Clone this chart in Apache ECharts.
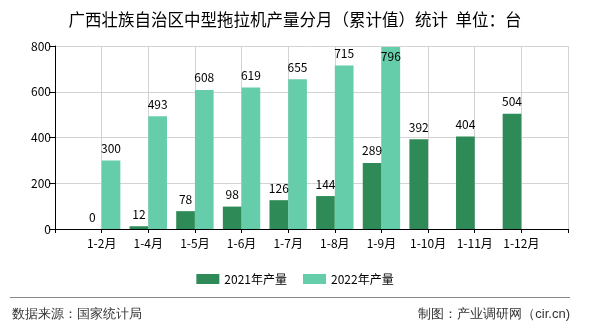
<!DOCTYPE html>
<html><head><meta charset="utf-8">
<script src="https://cdn.jsdelivr.net/npm/echarts@6/dist/echarts.min.js"></script>
<style>html,body{margin:0;padding:0;background:#fff}#c{width:590px;height:330px}</style>
</head><body><div id="c"></div>
<script>
var categories = ['', '1-2月', '1-4月', '1-5月', '1-6月', '1-7月', '1-8月', '1-9月', '1-10月', '1-11月', '1-12月', ''];
var values2021 = [null, 0, 12, 78, 98, 126, 144, 289, 392, 404, 504, null];
var values2022 = [null, 300, 493, 608, 619, 655, 715, 796, null, null, null, null];
var seriesNames = ['2021年产量', '2022年产量'];
var titleText = '广西壮族自治区中型拖拉机产量分月（累计值）统计  单位：台';
var sourceText = '数据来源：国家统计局';
var makerText = '制图：产业调研网（cir.cn)';

var FONT = '"Noto Sans CJK SC", "DejaVu Sans", sans-serif';
var chart = echarts.init(document.getElementById('c'), null, {renderer: 'canvas'});
var d2022 = values2022.map(function (v, i) {
  if (v !== null && v > 760) return {value: v, label: {position: 'insideTop', distance: 4}};
  return v;
});
chart.setOption({
  animation: false,
  textStyle: {fontFamily: FONT},
  title: {
    text: titleText, left: 'center', top: 6,
    textStyle: {fontSize: 16.5, fontWeight: 'normal', color: '#000', fontFamily: FONT}
  },
  legend: {
    data: seriesNames, top: 268, left: 'center', itemWidth: 23, itemHeight: 10, itemGap: 16,
    icon: 'rect',
    textStyle: {fontSize: 12, color: '#000', fontFamily: FONT}
  },
  grid: {left: 55, right: 22, top: 46, bottom: 101, containLabel: false},
  xAxis: {
    type: 'category', data: categories, boundaryGap: false,
    axisLine: {lineStyle: {color: '#000'}},
    axisTick: {show: true, length: 4, lineStyle: {color: '#000'}},
    axisLabel: {color: '#000', fontSize: 12, interval: 0, margin: 8, fontFamily: FONT},
    splitLine: {show: true, lineStyle: {color: '#d3d3d3'}}
  },
  yAxis: {
    type: 'value', min: 0, max: 800, interval: 200,
    axisLine: {show: true, lineStyle: {color: '#000'}},
    axisTick: {show: true, length: 6, lineStyle: {color: '#000'}},
    axisLabel: {color: '#000', fontSize: 12, margin: 4, fontFamily: FONT},
    splitLine: {show: true, lineStyle: {color: '#d3d3d3'}}
  },
  series: [
    {name: seriesNames[0], type: 'bar', data: values2021, barWidth: 18.7, barGap: '0%',
     itemStyle: {color: '#2E8B57'},
     label: {show: true, position: 'top', color: '#000', fontSize: 12, distance: 6, fontFamily: FONT}},
    {name: seriesNames[1], type: 'bar', data: d2022, barWidth: 18.7, barGap: '0%',
     itemStyle: {color: '#66CDAA'},
     label: {show: true, position: 'top', color: '#000', fontSize: 12, distance: 6, fontFamily: FONT}}
  ],
  graphic: [
    {type: 'line', shape: {x1: 10, y1: 297.5, x2: 570, y2: 297.5}, style: {stroke: '#888', lineWidth: 1}},
    {type: 'text', left: 12, top: 308, style: {text: sourceText, fontSize: 13, fill: '#333', font: '13px ' + FONT}},
    {type: 'text', right: 20, top: 308, style: {text: makerText, fontSize: 13, fill: '#333', font: '13px ' + FONT}}
  ]
});
</script></body></html>
